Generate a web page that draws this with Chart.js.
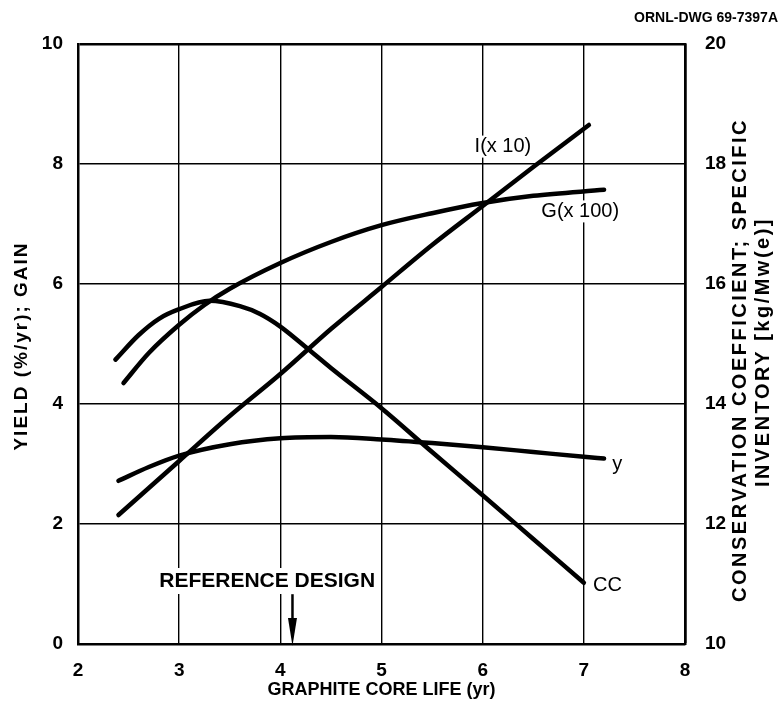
<!DOCTYPE html>
<html><head><meta charset="utf-8">
<script src="https://cdn.jsdelivr.net/npm/chart.js@4"></script>
<style>html,body{margin:0;padding:0;background:#fff;overflow:hidden;}</style>
</head><body>
<canvas id="c" width="781" height="715"></canvas>
<script>
// ---- data ----
const xTicks = [2, 3, 4, 5, 6, 7, 8];
const leftTicks = [0, 2, 4, 6, 8, 10];
const rightTicks = [10, 12, 14, 16, 18, 20];

// yield y (%/yr), left axis
const yieldX = [2.4, 2.7, 3.0, 3.5, 4.0, 4.5, 5.0, 5.5, 6.0, 6.5, 7.0, 7.2];
const yieldV = [2.72, 2.95, 3.14, 3.33, 3.43, 3.45, 3.41, 3.35, 3.28, 3.2, 3.12, 3.09];

// gain G (x100), left axis
const gainX = [2.45, 2.7, 3.0, 3.25, 3.5, 4.0, 4.5, 5.0, 5.5, 6.0, 6.5, 7.2];
const gainV = [4.35, 4.85, 5.32, 5.65, 5.92, 6.35, 6.7, 6.98, 7.18, 7.35, 7.47, 7.57];

// specific inventory I (x10), right axis
const invX = [2.4, 2.7, 3.0, 3.5, 4.0, 4.5, 5.0, 5.5, 6.0, 6.5, 7.05];
const invV = [12.15, 12.6, 13.05, 13.8, 14.5, 15.25, 15.95, 16.65, 17.3, 17.95, 18.65];

// conservation coefficient CC, right axis
const ccX = [2.37, 2.6, 2.8, 3.0, 3.3, 3.6, 3.8, 4.0, 4.25, 4.5, 5.0, 5.5, 6.0, 6.5, 7.0];
const ccV = [14.74, 15.15, 15.42, 15.58, 15.72, 15.63, 15.5, 15.29, 14.95, 14.6, 13.93, 13.2, 12.48, 11.75, 11.02];

const referenceDesign = 4.12;

const pts = (xs, ys) => xs.map((x, i) => ({x: x, y: ys[i]}));
const FONT = '"Liberation Sans", Arial, sans-serif';

const lineStyle = {borderColor: '#000', borderWidth: 4.5, pointRadius: 0, cubicInterpolationMode: 'monotone', fill: false, borderCapStyle: 'round', borderJoinStyle: 'round'};

const labels = [
  {text: 'I(x 10)', x: 5.92, y: 8.29, align: 'left', bg: true},
  {text: 'G(x 100)', x: 6.58, y: 7.21, align: 'left', bg: true},
  {text: 'y', x: 7.28, y: 3.0, align: 'left', bg: false},
  {text: 'CC', x: 7.09, y: 0.97, align: 'left', bg: false}
];

const annot = {
  id: 'annot',
  afterDatasetsDraw(chart) {
    const ctx = chart.ctx, xs = chart.scales.x, ys = chart.scales.y;
    ctx.save();
    ctx.fillStyle = '#000';
    ctx.textBaseline = 'middle';
    ctx.font = '20px ' + FONT;
    labels.forEach(l => {
      const px = xs.getPixelForValue(l.x), py = ys.getPixelForValue(l.y);
      ctx.textAlign = l.align;
      if (l.bg) {
        const w = ctx.measureText(l.text).width;
        ctx.fillStyle = '#fff';
        ctx.fillRect(px - 3, py - 11, w + 6, 22);
        ctx.fillStyle = '#000';
      }
      ctx.fillText(l.text, px, py);
    });
    // reference design label and arrow
    ctx.font = 'bold 21px ' + FONT;
    ctx.textAlign = 'center';
    const tx = xs.getPixelForValue(3.87), ty = ys.getPixelForValue(1.05);
    const tw = ctx.measureText('REFERENCE DESIGN').width;
    ctx.fillStyle = '#fff';
    ctx.fillRect(tx - tw / 2 - 4, ty - 13, tw + 8, 26);
    ctx.fillStyle = '#000';
    ctx.fillText('REFERENCE DESIGN', tx, ty);
    const ax = xs.getPixelForValue(referenceDesign);
    const a0 = ys.getPixelForValue(0.83), a1 = ys.getPixelForValue(0);
    ctx.strokeStyle = '#000';
    ctx.lineWidth = 2.5;
    ctx.beginPath(); ctx.moveTo(ax, a0); ctx.lineTo(ax, a1 - 20); ctx.stroke();
    ctx.beginPath();
    ctx.moveTo(ax - 4.5, a1 - 26); ctx.lineTo(ax + 4.5, a1 - 26); ctx.lineTo(ax, a1 + 2); ctx.closePath();
    ctx.fill();
    // right-axis title (reads bottom to top)
    const cy = (ys.top + ys.bottom) / 2 + 16;
    ctx.font = 'bold 20px ' + FONT;
    ctx.letterSpacing = '2.5px';
    ctx.textAlign = 'center';
    ctx.translate(740, cy);
    ctx.rotate(-Math.PI / 2);
    ctx.fillText('CONSERVATION COEFFICIENT; SPECIFIC', 0, 0);
    ctx.fillText('INVENTORY [kg/Mw(e)]', 8, 23);
    ctx.restore();
    // drawing number
    ctx.save();
    ctx.font = 'bold 14px ' + FONT;
    ctx.textAlign = 'right';
    ctx.textBaseline = 'middle';
    ctx.fillStyle = '#000';
    ctx.fillText('ORNL-DWG 69-7397A', 778, 18);
    ctx.restore();
  }
};

const leftTitle = {
  id: 'leftTitle',
  afterDraw(chart) {
    const ctx = chart.ctx, ys = chart.scales.y;
    ctx.save();
    ctx.fillStyle = '#000';
    ctx.font = 'bold 19px ' + FONT;
    ctx.letterSpacing = '2px';
    ctx.textAlign = 'center';
    ctx.textBaseline = 'middle';
    ctx.translate(22, (ys.top + ys.bottom) / 2 + 2);
    ctx.rotate(-Math.PI / 2);
    ctx.fillText('YIELD (%/yr); GAIN', 0, 0);
    ctx.restore();
  }
};

new Chart(document.getElementById('c'), {
  type: 'line',
  data: {
    datasets: [
      Object.assign({label: 'y', data: pts(yieldX, yieldV), yAxisID: 'y'}, lineStyle),
      Object.assign({label: 'G (x100)', data: pts(gainX, gainV), yAxisID: 'y'}, lineStyle),
      Object.assign({label: 'I (x10)', data: pts(invX, invV), yAxisID: 'y2'}, lineStyle),
      Object.assign({label: 'CC', data: pts(ccX, ccV), yAxisID: 'y2'}, lineStyle)
    ]
  },
  options: {
    responsive: false,
    animation: false,
    layout: {padding: {top: 44, left: 0, right: 0, bottom: 0}},
    plugins: {legend: {display: false}, tooltip: {enabled: false}},
    scales: {
      x: {
        type: 'linear', min: 2, max: 8,
        afterBuildTicks: s => { s.ticks = xTicks.map(v => ({value: v})); },
        afterFit: s => { s.height = 71; },
        ticks: {color: '#000', padding: 15, font: {family: FONT, size: 19, weight: 'bold'}, maxRotation: 0},
        grid: {color: '#000', lineWidth: c => (c.tick && c.tick.value === 8 ? 2.5 : 1.4), drawTicks: false, borderDash: [30, 3]},
        border: {color: '#000', width: 2.5},
        title: {display: true, text: 'GRAPHITE CORE LIFE (yr)', color: '#000', font: {family: FONT, size: 18, weight: 'bold'}, padding: {top: 0, bottom: 14}}
      },
      y: {
        type: 'linear', position: 'left', min: 0, max: 10,
        afterBuildTicks: s => { s.ticks = leftTicks.map(v => ({value: v})); },
        afterFit: s => { s.width = 78; },
        ticks: {color: '#000', padding: 15, font: {family: FONT, size: 19, weight: 'bold'}},
        grid: {color: '#000', lineWidth: c => (c.tick && c.tick.value === 10 ? 2.5 : 1.4), drawTicks: false, borderDash: [30, 3]},
        border: {color: '#000', width: 2.5},
        title: {display: false}
      },
      y2: {
        type: 'linear', position: 'right', min: 10, max: 20,
        afterBuildTicks: s => { s.ticks = rightTicks.map(v => ({value: v})); },
        afterFit: s => { s.width = 96; },
        ticks: {color: '#000', padding: 20, font: {family: FONT, size: 19, weight: 'bold'}},
        grid: {display: false, drawTicks: false},
        border: {color: '#000', width: 2.5}
      }
    }
  },
  plugins: [annot, leftTitle]
});
</script>
</body></html>
